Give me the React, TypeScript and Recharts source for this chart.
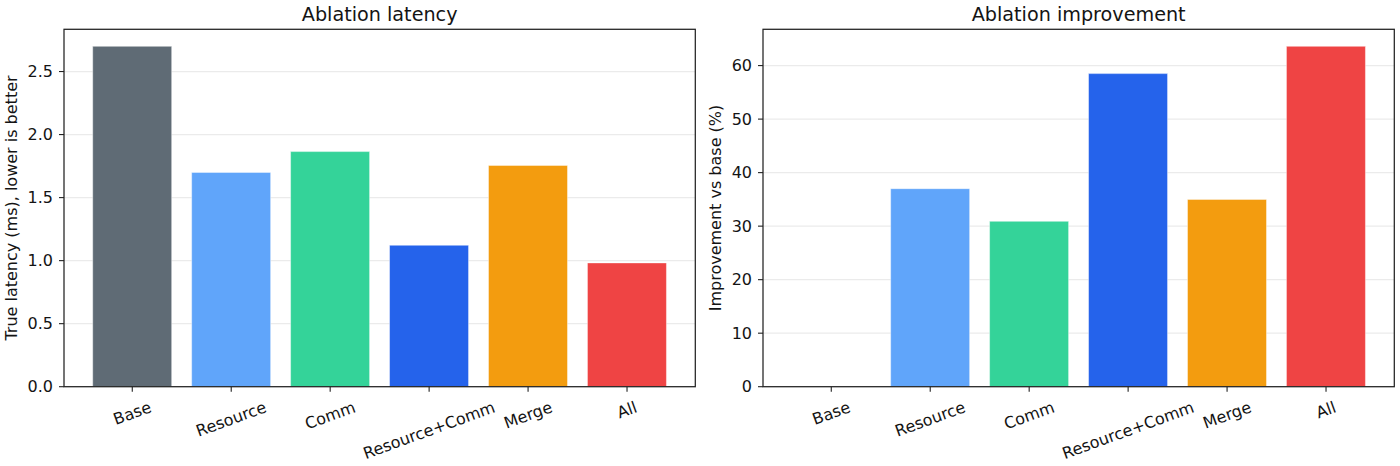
import React from "react";
import { BarChart, Bar, XAxis, YAxis, CartesianGrid, Cell } from "recharts";

const categories = ["Base", "Resource", "Comm", "Resource+Comm", "Merge", "All"];
const latencyMs = [2.7, 1.7, 1.865, 1.122, 1.755, 0.982];
const improvementPct = [0, 37.0, 30.9, 58.5, 35.0, 63.6];
const barColors = ["#5f6b75", "#60a5fa", "#34d399", "#2563eb", "#f39c0f", "#ef4444"];
const latencyTicks = [0, 0.5, 1.0, 1.5, 2.0, 2.5];
const improvementTicks = [0, 10, 20, 30, 40, 50, 60];

const latencyData = categories.map((name, i) => ({ name, value: latencyMs[i] }));
const improvementData = categories.map((name, i) => ({ name, value: improvementPct[i] }));

const FONT = '"DejaVu Sans", "Liberation Sans", sans-serif';
const TEXT = "#141414";
const CHART_W = 700;
const CHART_H = 466;
const PLOT_TOP = 29.3;
const PLOT_BOTTOM = 386.7;
const PLOT_W = 631.3;
const TICK_FONT = 16;

let ctx: CanvasRenderingContext2D | null = null;
function textWidth(s: string, size: number) {
  if (!ctx) ctx = document.createElement("canvas").getContext("2d");
  if (!ctx) return s.length * size * 0.6;
  ctx.font = `${size}px "DejaVu Sans"`;
  return ctx.measureText(s).width;
}

// rotated category label, top of its rotated box just under the tick
function RotatedTick(props: any) {
  const { x, y, payload } = props;
  const label = String(payload.value);
  const a = (20 * Math.PI) / 180;
  const w = textWidth(label, TICK_FONT);
  const h = TICK_FONT * 1.164;
  const cy = y + (w * Math.sin(a) + h * Math.cos(a)) / 2;
  return (
    <text
      x={x}
      y={cy}
      transform={`rotate(-20 ${x} ${cy})`}
      textAnchor="middle"
      dominantBaseline="central"
      fontSize={TICK_FONT}
      fill={TEXT}
    >
      {label}
    </text>
  );
}

function AxisTitle(props: any) {
  const { viewBox, text, baseX } = props;
  const vx = viewBox && typeof viewBox.x === "number" ? viewBox.x : 0;
  const cy = PLOT_TOP + (PLOT_BOTTOM - PLOT_TOP) / 2;
  const x = vx + baseX;
  return (
    <text x={x} y={cy} transform={`rotate(-90 ${x} ${cy})`} textAnchor="middle" fontSize={16} fill={TEXT}>
      {text}
    </text>
  );
}

interface PanelProps {
  data: { name: string; value: number }[];
  ticks: number[];
  yWidth: number;
  rightMargin: number;
  yLabel: string;
  labelX: number;
  fmt: (v: number) => string;
}

function Panel({ data, ticks, yWidth, rightMargin, yLabel, labelX, fmt }: PanelProps) {
  const band = PLOT_W / 6.38;
  const pad = 0.19 * band;
  return (
    <BarChart
      width={CHART_W}
      height={CHART_H}
      data={data}
      margin={{ top: PLOT_TOP, right: rightMargin, bottom: 0, left: 0 }}
      barCategoryGap="10%"
    >
      <XAxis
        dataKey="name"
        height={CHART_H - PLOT_BOTTOM}
        padding={{ left: pad, right: pad }}
        axisLine={false}
        tickLine={{ stroke: "#222", strokeWidth: 1.1 }}
        tickSize={5}
        tickMargin={6}
        interval={0}
        tick={<RotatedTick />}
      />
      <YAxis
        width={yWidth}
        domain={[0, (dataMax: number) => dataMax * 1.05]}
        ticks={ticks}
        allowDecimals
        axisLine={false}
        tickLine={{ stroke: "#222", strokeWidth: 1.1 }}
        tickSize={5}
        tickMargin={6}
        tickFormatter={fmt}
        tick={{ fill: TEXT, fontSize: TICK_FONT }}
        label={<AxisTitle text={yLabel} baseX={labelX} />}
      />
      <Bar dataKey="value" isAnimationActive={false} stroke="#ffffff" strokeOpacity={0.55} strokeWidth={0.8}>
        {data.map((d, i) => (
          <Cell key={d.name} fill={barColors[i]} />
        ))}
      </Bar>
      <CartesianGrid vertical={false} stroke="#b0b0b0" strokeOpacity={0.25} strokeWidth={1.2} />
    </BarChart>
  );
}

export default function App() {
  const frames = [
    { x: 64, title: "Ablation latency" },
    { x: 763, title: "Ablation improvement" },
  ];
  return (
    <div
      style={{
        position: "absolute",
        left: 0,
        top: 0,
        width: 1400,
        height: 466,
        background: "#fff",
        fontFamily: FONT,
      }}
    >
      <div style={{ position: "absolute", left: 0, top: 0 }}>
        <Panel
          data={latencyData}
          ticks={latencyTicks}
          yWidth={64}
          rightMargin={CHART_W - 64 - PLOT_W}
          yLabel="True latency (ms), lower is better"
          labelX={17.3}
          fmt={(v) => v.toFixed(1)}
        />
      </div>
      <div style={{ position: "absolute", left: 700, top: 0 }}>
        <Panel
          data={improvementData}
          ticks={improvementTicks}
          yWidth={63}
          rightMargin={CHART_W - 63 - PLOT_W}
          yLabel="Improvement vs base (%)"
          labelX={21.3}
          fmt={(v) => String(v)}
        />
      </div>
      <svg
        width={1400}
        height={466}
        style={{ position: "absolute", left: 0, top: 0, pointerEvents: "none" }}
      >
        {frames.map((f) => (
          <g key={f.title}>
            <rect
              x={f.x}
              y={PLOT_TOP}
              width={PLOT_W}
              height={PLOT_BOTTOM - PLOT_TOP}
              fill="none"
              stroke="#222"
              strokeWidth={1.25}
            />
            <text x={f.x + PLOT_W / 2} y={20.7} textAnchor="middle" fontSize={19.2} fill={TEXT} fontFamily={FONT}>
              {f.title}
            </text>
          </g>
        ))}
      </svg>
    </div>
  );
}
